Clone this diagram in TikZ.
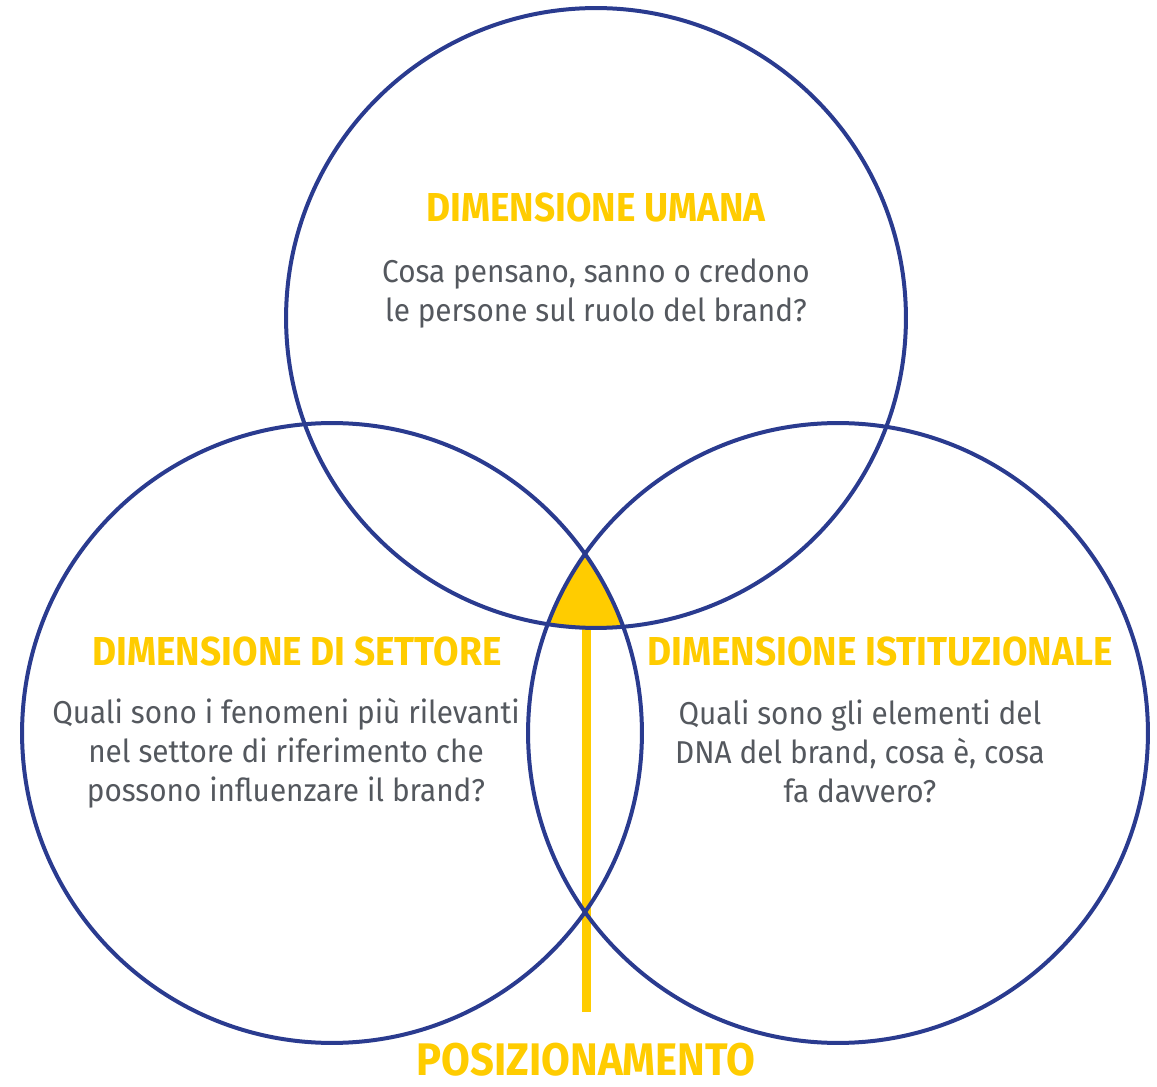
\documentclass[tikz,border=0pt]{standalone}
\usepackage{fontspec}
\setmainfont{Fira Sans}[FakeStretch=0.94]
\newfontfamily\titlefont{Fira Sans}[FakeStretch=0.915]
\definecolor{venblue}{RGB}{42,59,143}
\definecolor{venyellow}{RGB}{255,204,0}
\definecolor{vengray}{RGB}{84,88,94}
\begin{document}
\begin{tikzpicture}[x=0.02cm,y=-0.02cm,
		ring/.style={draw=venblue,line width=0.08cm},
		heading/.style={text=venyellow,inner sep=0,anchor=base,font=\titlefont\bfseries\fontsize{23}{26}\selectfont},
		question/.style={text=vengray,inner sep=0,anchor=north,align=center,font=\fontsize{18}{22.2}\selectfont}]
	\useasboundingbox (0,0) rectangle (1157,1087);
	\newcommand{\rad}{6.2cm}
	\coordinate (C_T) at (596,318);
	\coordinate (C_L) at (332,733);
	\coordinate (C_R) at (838,733);
	% common area of the three circles
	\begin{scope}
		\clip (C_L) circle (\rad);
		\clip (C_R) circle (\rad);
		\fill[venyellow] (C_T) circle (\rad);
	\end{scope}
	\coordinate (P_top) at (586,622);
	\coordinate (P_foot) at (586,1012);
	\draw[venyellow,line width=0.18cm] (P_foot) -- (P_top);
	\draw[ring] (C_T) circle (\rad);
	\draw[ring] (C_L) circle (\rad);
	\draw[ring] (C_R) circle (\rad);
	% texts
	\node[heading] (H_T) at (596,222) {DIMENSIONE UMANA};
	\node[heading] (H_L) at (297,666) {DIMENSIONE DI SETTORE};
	\node[heading] (H_R) at (880,666) {DIMENSIONE ISTITUZIONALE};
	\node[question] (Q_T) at (596,258) {Cosa pensano, sanno o credono\\le persone sul ruolo del brand?};
	\node[question] (Q_L) at (286,698) {Quali sono i fenomeni più rilevanti\\nel settore di riferimento che\\possono influenzare il brand?};
	\node[question] (Q_R) at (860,699) {Quali sono gli elementi del\\DNA del brand, cosa è, cosa\\fa davvero?};
	\node[heading,font=\titlefont\bfseries\fontsize{26}{30}\selectfont] (Pos) at (586,1075) {POSIZIONAMENTO};
\end{tikzpicture}
\end{document}
